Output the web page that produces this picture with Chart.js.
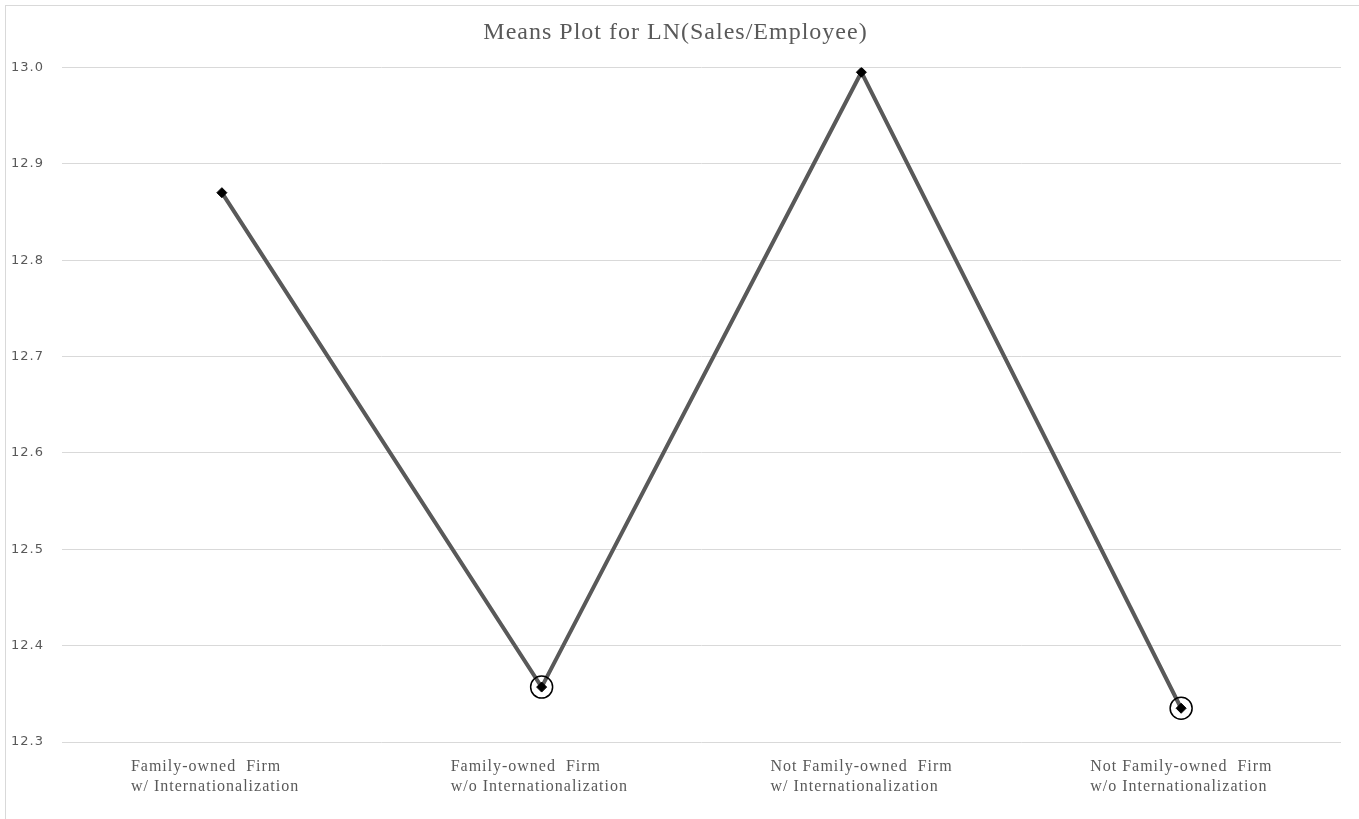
<!DOCTYPE html>
<html>
<head>
<meta charset="utf-8">
<script src="https://cdn.jsdelivr.net/npm/chart.js@4.4.0/dist/chart.umd.min.js"></script>
<style>
  html, body { margin: 0; padding: 0; background: #fff; }
  #frame {
    position: absolute; left: 5px; top: 5px;
    width: 1354px; height: 814px;
    border-left: 1px solid #d9d9d9; border-top: 1px solid #d9d9d9;
  }
  #chart { display: block; }
</style>
</head>
<body>
<div id="frame"><canvas id="chart" width="1353" height="813"></canvas></div>
<script>
// Group means of LN(Sales/Employee)
const groups = [
  ['Family-owned  Firm', 'w/ Internationalization'],
  ['Family-owned  Firm', 'w/o Internationalization'],
  ['Not Family-owned  Firm', 'w/ Internationalization'],
  ['Not Family-owned  Firm', 'w/o Internationalization']
];
const means = [12.870, 12.357, 12.995, 12.335];
// groups marked with a ring around the mean
const flagged = [false, true, false, true];
const yTicks = [12.3, 12.4, 12.5, 12.6, 12.7, 12.8, 12.9, 13.0];

const grey = '#595959';
const serif = '"Liberation Serif", "Times New Roman", serif';

// slightly wider letter spacing for all chart text
const spacing = {
  id: 'spacing',
  beforeDraw(chart) { chart.ctx.letterSpacing = '1px'; },
  afterDraw(chart) { chart.ctx.letterSpacing = '0px'; }
};

new Chart(document.getElementById('chart').getContext('2d'), {
  type: 'line',
  data: {
    labels: groups,
    datasets: [
      {
        data: means,
        borderColor: grey,
        borderWidth: 4,
        pointStyle: 'rectRot',
        pointRadius: 5,
        pointBackgroundColor: '#000',
        pointBorderColor: '#000',
        pointBorderWidth: 1,
        tension: 0,
        order: 2
      },
      {
        data: means.map((v, i) => flagged[i] ? v : null),
        showLine: false,
        pointStyle: 'circle',
        pointRadius: 11,
        pointBackgroundColor: 'rgba(0,0,0,0)',
        pointBorderColor: '#000',
        pointBorderWidth: 1.5,
        order: 1
      }
    ]
  },
  plugins: [spacing],
  options: {
    responsive: false,
    animation: false,
    layout: { padding: { left: 4, right: 18, top: 0, bottom: 0 } },
    plugins: {
      legend: { display: false },
      tooltip: { enabled: false },
      title: {
        display: true,
        text: 'Means Plot for LN(Sales/Employee)',
        color: grey,
        font: { family: serif, size: 24, weight: 'normal', lineHeight: 1.1 },
        padding: { top: 14, bottom: 21 }
      }
    },
    scales: {
      x: {
        offset: true,
        grid: { display: false },
        border: { display: false },
        ticks: {
          color: grey,
          padding: 7,
          maxRotation: 0,
          autoSkip: false,
          align: 'start',
          labelOffset: -91,
          font: { family: serif, size: 16, lineHeight: 1.25 }
        },
        afterFit: s => { s.height = 77; }
      },
      y: {
        min: 12.3,
        max: 13.0,
        afterBuildTicks: s => { s.ticks = yTicks.map(v => ({ value: v })); },
        grid: { color: '#d9d9d9', lineWidth: 1, drawTicks: false },
        border: { display: false },
        ticks: {
          color: grey,
          padding: 18,
          font: { family: '"DejaVu Sans", Verdana, sans-serif', size: 13 },
          callback: v => v.toFixed(1)
        },
        afterFit: s => { s.width = 52; }
      }
    }
  }
});
</script>
</body>
</html>
